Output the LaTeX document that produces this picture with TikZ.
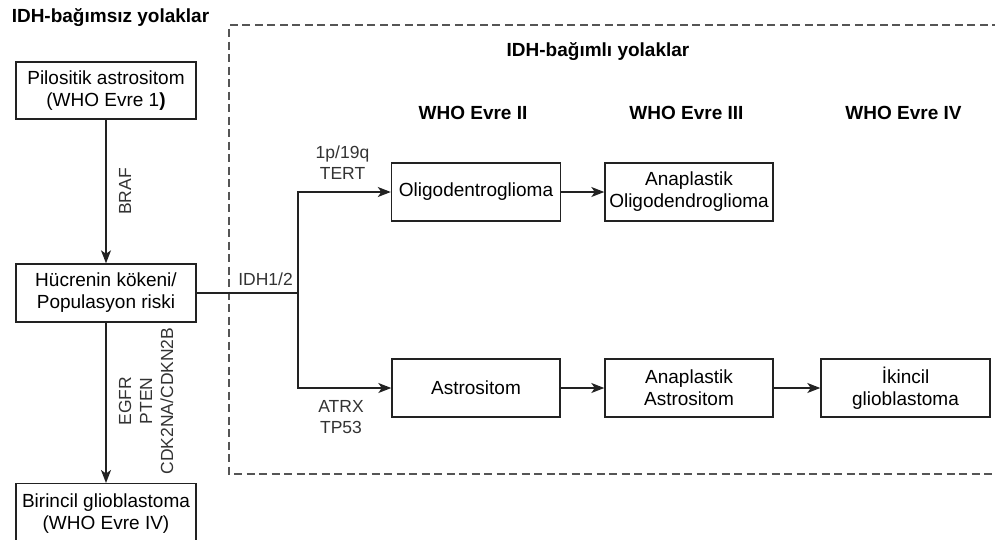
\documentclass[tikz,border=0pt]{standalone}
\usepackage{fontspec}
\setmainfont{Liberation Sans}
\usetikzlibrary{arrows.meta}
\definecolor{ink}{HTML}{222222}
\definecolor{framegray}{HTML}{555555}
\definecolor{labelgray}{HTML}{333333}

\begin{document}
\begin{tikzpicture}[x=1pt,y=-1pt,
  stagebox/.style={draw=ink, line width=1.4pt, rectangle, minimum height=58pt,
    align=center, inner sep=2pt, font=\fontsize{19}{22}\selectfont, text=black},
  flow/.style={draw=ink, line width=1.4pt,
    -{Stealth[length=13pt,width=10pt,inset=3.5pt]}},
  link/.style={draw=ink, line width=1.4pt},
  heading/.style={font=\fontsize{19}{22}\selectfont\bfseries, inner sep=0pt},
  marker/.style={font=\fontsize{17.5}{21}\selectfont, text=labelgray,
    align=center, inner sep=0pt},
  frame/.style={draw=framegray, line width=1.6pt, dash pattern=on 8pt off 4.5pt}]

\useasboundingbox (0,0) rectangle (995,539);

% titles
\node[heading] (indep) at (110.5,18) {IDH-bağımsız yolaklar};
\node[heading] (dep) at (598,52) {IDH-bağımlı yolaklar};
\node[heading] (who2) at (473,113) {WHO Evre II};
\node[heading] (who3) at (686.5,113) {WHO Evre III};
\node[heading] (who4) at (903.5,113) {WHO Evre IV};

% dashed frame around the IDH-dependent pathways (open on the right)
\coordinate (frTR) at (1000,25);
\coordinate (frTL) at (229,25);
\coordinate (frBL) at (229,474);
\coordinate (frBR) at (1000,474);
\draw[frame] (frTR) -- (frTL) -- (frBL) -- (frBR);

% IDH-independent column
\node[stagebox, minimum width=180pt, minimum height=57pt] (pil) at (106,90.5)
  {Pilositik astrositom\\(WHO Evre 1\textbf{)}};
\node[stagebox, minimum width=180pt] (hue) at (106,293)
  {Hücrenin kökeni/\\Populasyon riski};
\node[stagebox, minimum width=180pt, minimum height=60pt, anchor=north] (bir) at (106,483)
  {Birincil glioblastoma\\(WHO Evre IV)};

\draw[flow] (pil.south) -- (hue.north);
\draw[flow] (hue.south) -- (bir.north);

\node[marker, rotate=90] (braf) at (125,191.5) {BRAF};
\node[marker, rotate=90] (egfr) at (146,401) {EGFR\\PTEN\\CDK2NA/CDKN2B};

% IDH-dependent pathways
\node[stagebox, minimum width=169pt] (oli) at (476,192) {Oligodentroglioma};
\node[stagebox, minimum width=168pt] (aol) at (689,192) {Anaplastik\\Oligodendroglioma};
\node[stagebox, minimum width=168pt] (ast) at (476,388) {Astrositom};
\node[stagebox, minimum width=168pt] (aas) at (689,388) {Anaplastik\\Astrositom};
\node[stagebox, minimum width=169pt] (ikn) at (905.5,388) {İkincil\\glioblastoma};

\coordinate (split) at (298,293);
\draw[link] (hue.east) -- (split);
\draw[flow] (split) |- (oli.west);
\draw[flow] (split) |- (ast.west);
\draw[flow] (oli) -- (aol);
\draw[flow] (ast) -- (aas);
\draw[flow] (aas) -- (ikn);

\node[marker] (idh) at (265.5,279) {IDH1/2};
\node[marker] (tert) at (342.5,162.5) {1p/19q\\TERT};
\node[marker] (atrx) at (341,417.5) {ATRX\\TP53};

\end{tikzpicture}
\end{document}
